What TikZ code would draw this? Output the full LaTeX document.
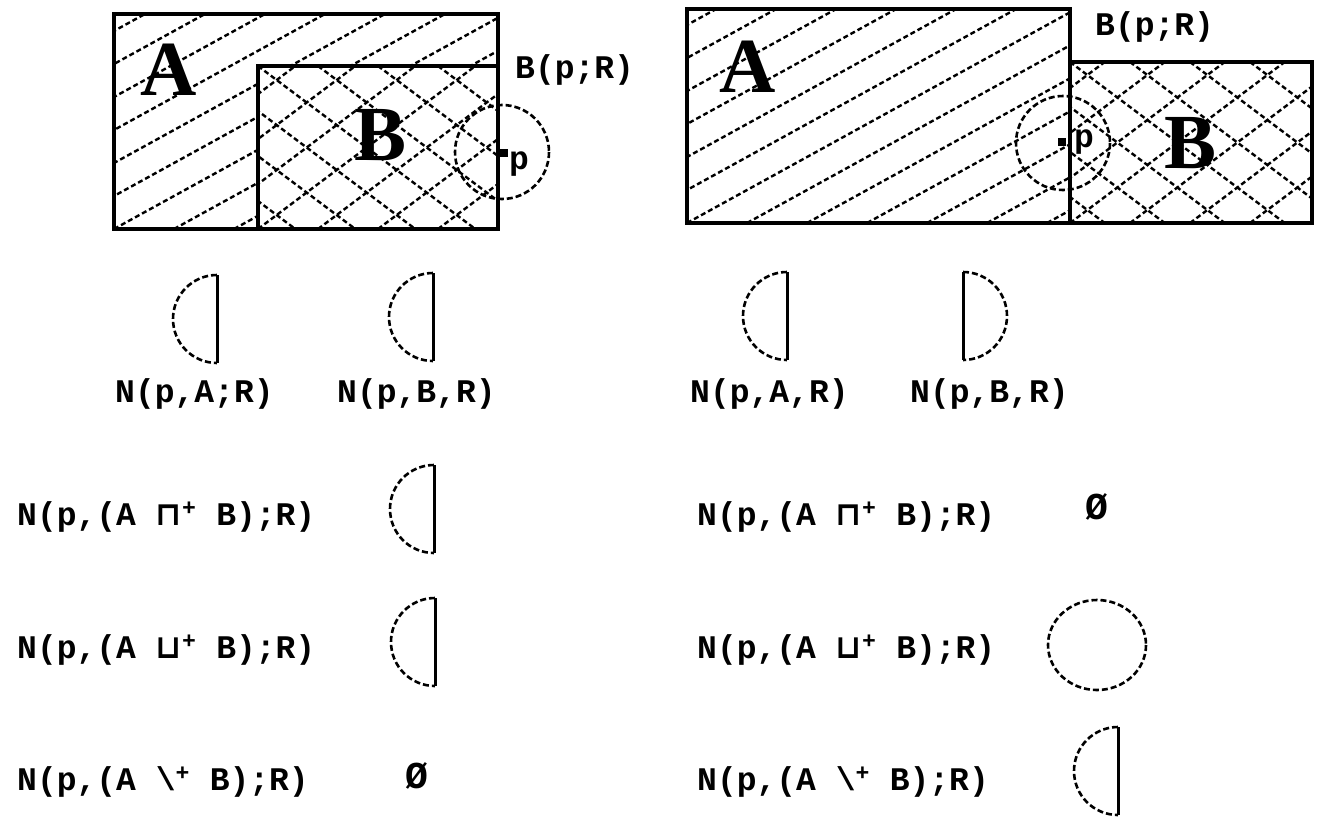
\documentclass[tikz,border=0pt]{standalone}
\usepackage{fontspec}
\newfontfamily\pixfont{Liberation Mono}
\newfontfamily\bigfont{Liberation Serif}
\newfontfamily\symfont{DejaVu Sans}

\tikzset{
  frame/.style={line width=3.5pt},
  hatch/.style={line width=2.4pt, dash pattern=on 5pt off 3pt},
  rim/.style={line width=2.6pt, dash pattern=on 6pt off 3pt},
  chord/.style={line width=3pt},
  lbl/.style={font=\pixfont\bfseries\fontsize{33}{33}\selectfont, inner sep=0pt, anchor=base west},
  letter/.style={font=\bigfont\bfseries\fontsize{78}{78}\selectfont, inner sep=0pt},
  dot/.style={fill=black, minimum size=8pt, inner sep=0pt},
}

\begin{document}
\begin{tikzpicture}[x=1pt, y=-1pt]
    \useasboundingbox (0,0) rectangle (1319,817);
    \fill[white] (0,0) rectangle (1319,817);

    % 1. Left figure: A with B on its lower right
    \begin{scope}
      \clip (114,14) -- (498,14) -- (498,66) -- (258,66) -- (258,229) -- (114,229) -- cycle;
      \foreach \k in {-7,...,7} \draw[hatch] (114+60*\k,229) -- ++(420,-231);
    \end{scope}
    \begin{scope}
      \clip (258,66) rectangle (498,229);
      \foreach \k in {-5,...,5} {
        \draw[hatch] (258+60*\k,229) -- ++(240,-180);
        \draw[hatch] (258+60*\k,66) -- ++(240,180);
      }
    \end{scope}
    \draw[frame] (114,14) rectangle (498,229);
    \draw[frame] (258,66) rectangle (498,229);
    \draw[rim] (502,152) circle (47);
    \node[dot] (lp) at (504,153) {};
    \node[letter] (lA) at (169,70) {A};
    \node[letter] (lB) at (381,135) {B};
    \node[lbl, anchor=base] (lpname) at (519,169) {p};
    \node[lbl] (lball) at (515,78) {B(p;R)};

    % 2. Right figure: A and B side by side
    \begin{scope}
      \clip (687,9) rectangle (1070,223);
      \foreach \k in {-7,...,7} \draw[hatch] (687+60*\k,223) -- ++(420,-231);
    \end{scope}
    \begin{scope}
      \clip (1070,62) rectangle (1312,223);
      \foreach \k in {-5,...,5} {
        \draw[hatch] (1070+60*\k,223) -- ++(240,-180);
        \draw[hatch] (1070+60*\k,62) -- ++(240,180);
      }
    \end{scope}
    \draw[frame] (687,9) rectangle (1070,223);
    \draw[frame] (1070,62) rectangle (1312,223);
    \draw[rim] (1063,143) circle (47);
    \node[dot] (rp) at (1062,142) {};
    \node[letter] (rA) at (748,67) {A};
    \node[letter] (rB) at (1190,143) {B};
    \node[lbl, anchor=base] (rpname) at (1084,147) {p};
    \node[lbl] (rball) at (1095,35) {B(p;R)};

    % 3. Half discs (flat side on the right)
    \foreach \cx/\cy in {217/319, 433/317, 787/316, 434/509, 435/642, 1118/771} {
      \draw[chord] (\cx,\cy-44) -- (\cx,\cy+44);
      \draw[rim] (\cx,\cy-44) arc (270:90:44);
    }
    % flat side on the left
    \draw[chord] (963,272) -- (963,360);
    \draw[rim] (963,272) arc (-90:90:44);
    % whole disc
    \draw[rim] (1097,645) ellipse [x radius=49, y radius=45];

    % 4. Labels
    \node[lbl] (nlA) at (115,402) {N(p,A;R)};
    \node[lbl] (nlB) at (337,402) {N(p,B,R)};
    \node[lbl] (nrA) at (690,402) {N(p,A,R)};
    \node[lbl] (nrB) at (910,402) {N(p,B,R)};

    \node[lbl] (lcap) at (17,525) {N(p,(A {\symfont ⊓}\textsuperscript{+} B);R)};
    \node[lbl] (lcup) at (17,658) {N(p,(A {\symfont ⊔}\textsuperscript{+} B);R)};
    \node[lbl] (ldif) at (17,790) {N(p,(A \textbackslash\textsuperscript{+} B);R)};
    \node[lbl] (rcap) at (697,525) {N(p,(A {\symfont ⊓}\textsuperscript{+} B);R)};
    \node[lbl] (rcup) at (697,658) {N(p,(A {\symfont ⊔}\textsuperscript{+} B);R)};
    \node[lbl] (rdif) at (697,790) {N(p,(A \textbackslash\textsuperscript{+} B);R)};

    % empty results
    \node[lbl, anchor=center, font=\pixfont\bfseries\fontsize{38}{38}\selectfont] (lnone) at (417,776) {Ø};
    \node[lbl, anchor=center, font=\pixfont\bfseries\fontsize{38}{38}\selectfont] (rnone) at (1097,507) {Ø};
\end{tikzpicture}
\end{document}
